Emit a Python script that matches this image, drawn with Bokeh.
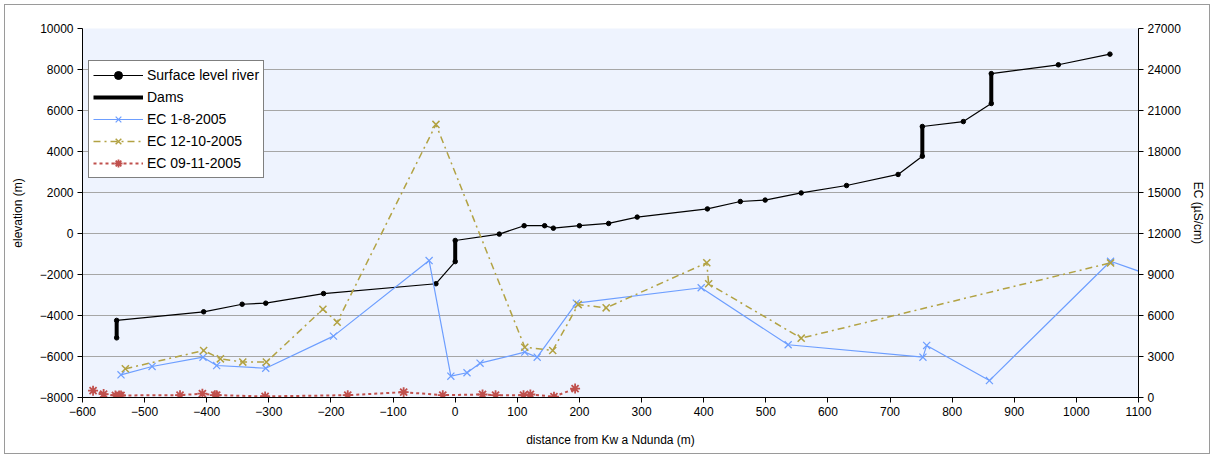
from bokeh.plotting import figure
from bokeh.models import Range1d, LinearAxis, FixedTicker, Legend, LegendItem
from bokeh.embed import file_html
from bokeh.resources import INLINE

# ---- data ----
surf_x = [-545, -545, -405, -343, -305, -212, -31, 0, 0, 71, 111, 144, 158, 200, 247, 293,
          406, 459, 499, 557, 630, 713, 752, 752, 818, 863, 863, 971, 1054]
surf_y = [-5090, -4240, -3820, -3450, -3400, -2930, -2450, -1370, -340, -30, 380, 380, 260, 380, 490, 800,
          1200, 1560, 1630, 1980, 2340, 2880, 3770, 5220, 5460, 6340, 7800, 8230, 8750]

dam_x = [[-545, -545], [0, 0], [752, 752], [863, 863]]
dam_y = [[-5090, -4240], [-1370, -340], [3770, 5220], [6340, 7800]]

ec1_x = [-538, -488, -406, -384, -305, -196, -42, -7, 19, 40, 112, 132, 195, 396, 536, 753, 759, 860, 1055, 1150]
ec1_v = [1660, 2270, 2950, 2340, 2140, 4490, 10020, 1560, 1810, 2510, 3320, 2950, 6900, 8030, 3860, 2950, 3810, 1240, 9970, 8450]

ec2_x = [-531, -405, -378, -342, -304, -213, -190, -31, 112, 157, 198, 243, 405, 408, 557, 1055]
ec2_v = [2100, 3440, 2830, 2590, 2590, 6460, 5510, 19980, 3680, 3440, 6800, 6560, 9860, 8320, 4340, 9850]

ec3_x = [-583, -566, -547, -541, -538, -443, -407, -387, -384, -306, -173, -83, -20, 44, 65, 110, 121, 159, 193]
ec3_v = [500, 250, 150, 150, 150, 170, 280, 170, 170, 80, 170, 390, 170, 220, 170, 170, 220, 60, 650]

x_ticks = list(range(-600, 1101, 100))
y_ticks = list(range(-8000, 10001, 2000))
ec_ticks = list(range(0, 27001, 3000))

FONT = "Liberation Sans"
BLUE = "#6D9EFF"
OLIVE = "#B2A243"
RED = "#C0504D"

p = figure(width=1206, height=450, output_backend="svg", toolbar_location=None,
           x_range=Range1d(-600, 1100), y_range=Range1d(-8000, 10000),
           min_border_left=77, min_border_right=73, min_border_top=23, min_border_bottom=58)
p.extra_y_ranges = {"ec": Range1d(0, 27000)}
p.background_fill_color = "#EEF3FE"
p.border_fill_color = "white"
p.outline_line_color = None
p.styles = {"border": "1px solid #9a9a9a", "margin": "4px 0px 0px 4px"}

p.xgrid.grid_line_color = None
p.ygrid.grid_line_color = "#A6A6A6"
p.ygrid.grid_line_width = 1

p.xaxis.ticker = FixedTicker(ticks=x_ticks)
p.yaxis.ticker = FixedTicker(ticks=y_ticks)
p.xaxis.axis_label = "distance from Kw a Ndunda (m)"
p.yaxis.axis_label = "elevation (m)"

ax2 = LinearAxis(y_range_name="ec", ticker=FixedTicker(ticks=ec_ticks), axis_label="EC (µS/cm)")
p.add_layout(ax2, "right")

for ax in [p.xaxis[0], p.yaxis[0], ax2]:
    ax.axis_line_color = "black"
    ax.axis_line_width = 1
    ax.major_tick_line_color = "black"
    ax.major_tick_out = 5
    ax.major_tick_in = 0
    ax.minor_tick_line_color = None
    ax.major_label_text_font = FONT
    ax.major_label_text_font_size = "12px"
    ax.major_label_text_color = "black"
    ax.major_label_standoff = 4
    ax.axis_label_text_font = FONT
    ax.axis_label_text_font_size = "12px"
    ax.axis_label_text_font_style = "normal"
    ax.axis_label_text_color = "black"
p.xaxis.axis_label_standoff = 14
p.yaxis.axis_label_standoff = 12
ax2.axis_label_standoff = 7

# series
r_sl = p.line(surf_x, surf_y, line_color="black", line_width=1.2)
r_sm = p.scatter(surf_x, surf_y, marker="circle", size=4.5, color="black")
r_dam = p.multi_line(dam_x, dam_y, line_color="black", line_width=4)

r_e1l = p.line(ec1_x, ec1_v, line_color=BLUE, line_width=1.2, y_range_name="ec")
r_e1m = p.scatter(ec1_x, ec1_v, marker="x", size=10, line_color=BLUE, line_width=1.2, y_range_name="ec")

r_e2l = p.line(ec2_x, ec2_v, line_color=OLIVE, line_width=1.5, line_dash="7 4 2 4", y_range_name="ec")
r_e2m = p.scatter(ec2_x, ec2_v, marker="x", size=10, line_color=OLIVE, line_width=1.5, y_range_name="ec")

r_e3l = p.line(ec3_x, ec3_v, line_color=RED, line_width=2, line_dash="3 3", y_range_name="ec")
r_e3m = p.scatter(ec3_x, ec3_v, marker="asterisk", size=10, line_color=RED, line_width=1.8, y_range_name="ec")

legend = Legend(items=[
    LegendItem(label="Surface level river", renderers=[r_sl, r_sm]),
    LegendItem(label="Dams", renderers=[r_dam]),
    LegendItem(label="EC 1-8-2005", renderers=[r_e1l, r_e1m]),
    LegendItem(label="EC 12-10-2005", renderers=[r_e2l, r_e2m]),
    LegendItem(label="EC 09-11-2005", renderers=[r_e3l, r_e3m]),
], location=(6, 219))
legend.label_text_font = FONT
legend.label_text_font_size = "14px"
legend.label_text_color = "black"
legend.glyph_width = 50
legend.glyph_height = 20
legend.label_height = 20
legend.label_standoff = 4
legend.spacing = 2
legend.padding = 4
legend.margin = 0
legend.border_line_color = "black"
legend.border_line_width = 1
legend.background_fill_color = "white"
legend.background_fill_alpha = 1
p.add_layout(legend, "center")

open("out.html", "w").write(file_html(p, INLINE))
